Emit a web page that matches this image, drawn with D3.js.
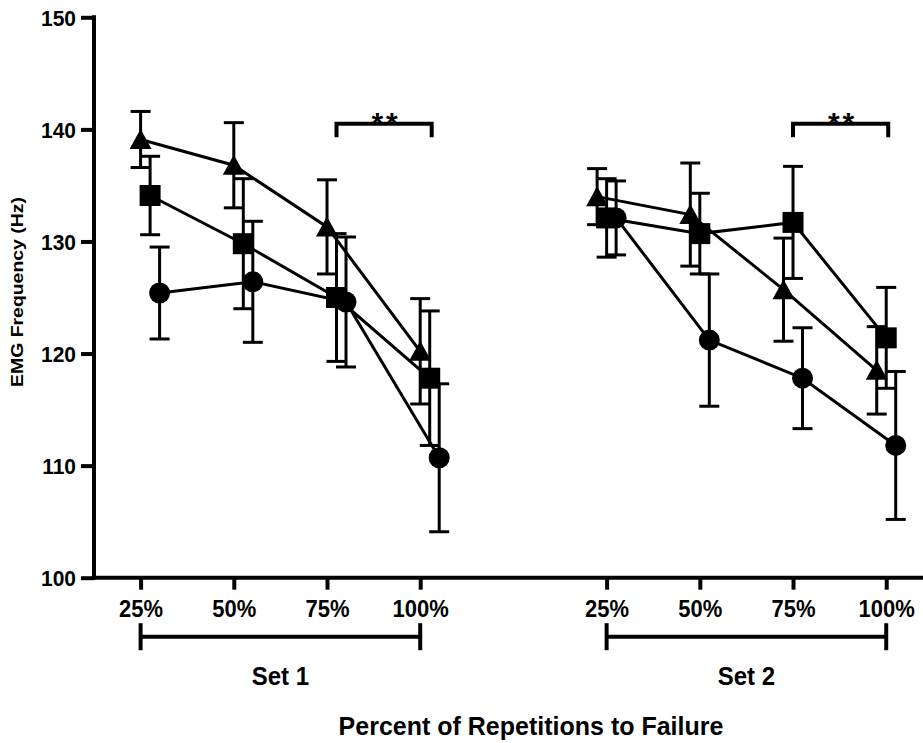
<!DOCTYPE html>
<html>
<head>
<meta charset="utf-8">
<script src="https://cdn.jsdelivr.net/npm/d3@7"></script>
<style>
  body { margin: 0; background: #fff; }
  text { font-family: "Liberation Sans", Arial, sans-serif; fill: #000; }
</style>
</head>
<body>
<div id="runApp"></div>
<script>
const timepoints = ["25%", "50%", "75%", "100%"];
const sets = ["Set 1", "Set 2"];
const yTicks = [100, 110, 120, 130, 140, 150];

// means and SD, Set 1 then Set 2 (four timepoints each)
const triangleMean = [139.1, 136.8, 131.3, 120.2, 134.0, 132.4, 125.7, 118.5];
const triangleSD = [2.5, 3.8, 4.2, 4.7, 2.5, 4.6, 4.6, 3.9];
const squareMean = [134.1, 129.8, 125.0, 117.8, 132.1, 130.7, 131.7, 121.4];
const squareSD = [3.5, 5.8, 5.7, 6.0, 3.5, 3.6, 5.0, 4.5];
const circleMean = [125.4, 126.4, 124.6, 110.7, 132.1, 121.2, 117.8, 111.8];
const circleSD = [4.1, 5.4, 5.8, 6.6, 3.3, 5.9, 4.5, 6.6];

// significance brackets: set index, from / to timepoint index
const sigSet = [0, 1];
const sigFrom = [2, 2];
const sigTo = [3, 3];
const sigLabel = ["**", "**"];
const sigLevel = 140.5;

let svg;
const width = 923;
const height = 743;

const x = d3.scaleLinear().domain([0.5, 9.4]).range([94, 923.5]);
const y = d3.scaleLinear().domain([100, 150]).range([577.7, 17.3]);

const dodge = { triangle: -9.5, square: 0, circle: 9.5 };
const setShift = [9.5, 0];

const series = [
  { name: "triangle", mean: triangleMean, sd: triangleSD },
  { name: "square", mean: squareMean, sd: squareSD },
  { name: "circle", mean: circleMean, sd: circleSD },
];

function slot(i) {
  const s = Math.floor(i / timepoints.length);
  const t = i % timepoints.length;
  return { set: s, pos: s * (timepoints.length + 1) + t + 1 };
}

function px(name, i) {
  const { set, pos } = slot(i);
  return x(pos) + dodge[name] + setShift[set];
}

function symbolPath(name) {
  if (name === "triangle") return "M0,-10.5L11,9.5L-11,9.5Z";
  if (name === "square") return "M-10.5,-10.5H10.5V10.5H-10.5Z";
  return d3.arc()({ innerRadius: 0, outerRadius: 10.5, startAngle: 0, endAngle: 2 * Math.PI });
}

function prepareVis() {
  svg = d3
    .select("#runApp")
    .append("svg")
    .attr("width", width)
    .attr("height", height)
    .style("background", "#fff");
}

function drawAxes() {
  const yAxis = svg
    .append("g")
    .attr("transform", `translate(${x.range()[0]},0)`)
    .call(d3.axisLeft(y).tickValues(yTicks).tickSize(13).tickSizeOuter(0).tickPadding(5));
  yAxis.select(".domain").remove();
  yAxis.selectAll(".tick line").attr("stroke", "#000").attr("stroke-width", 4);
  yAxis
    .selectAll(".tick text")
    .attr("x", null)
    .attr("dy", null)
    .attr("transform", "translate(-18,8) scale(1,1.08)")
    .attr("font-size", 21)
    .attr("font-weight", "bold")
    .attr("font-family", "Liberation Sans, Arial, sans-serif");

  const xTickVals = d3.range(8).map((i) => slot(i).pos);
  const xAxis = svg
    .append("g")
    .attr("transform", `translate(0,${y(100)})`)
    .call(
      d3.axisBottom(x)
        .tickValues(xTickVals)
        .tickFormat((d, i) => timepoints[i % timepoints.length])
        .tickSize(12)
        .tickSizeOuter(0)
    );
  xAxis.select(".domain").remove();
  xAxis.selectAll(".tick line").attr("stroke", "#000").attr("stroke-width", 4);
  xAxis
    .selectAll(".tick text")
    .attr("y", null)
    .attr("dy", null)
    .attr("transform", "translate(0,39) scale(1,1.12)")
    .attr("font-size", 22)
    .attr("font-weight", "bold")
    .attr("font-family", "Liberation Sans, Arial, sans-serif");

  // axis lines
  svg
    .append("line")
    .attr("x1", x.range()[0]).attr("x2", x.range()[0])
    .attr("y1", y(150)).attr("y2", y(100))
    .attr("stroke", "#000").attr("stroke-width", 4).attr("stroke-linecap", "square");
  svg
    .append("line")
    .attr("x1", x.range()[0]).attr("x2", width + 2)
    .attr("y1", y(100)).attr("y2", y(100))
    .attr("stroke", "#000").attr("stroke-width", 4).attr("stroke-linecap", "square");

  // set brackets under the ticks
  const by = 636.7;
  sets.forEach((label, s) => {
    const x1 = x(slot(s * 4).pos);
    const x2 = x(slot(s * 4 + 3).pos);
    const g = svg.append("g");
    g.append("line").attr("x1", x1).attr("x2", x2).attr("y1", by).attr("y2", by)
      .attr("stroke", "#000").attr("stroke-width", 4);
    [x1, x2].forEach((xx) => {
      g.append("line").attr("x1", xx).attr("x2", xx).attr("y1", by - 13.5).attr("y2", by + 13.5)
        .attr("stroke", "#000").attr("stroke-width", 4);
    });
    g.append("text")
      .attr("transform", `translate(${(x1 + x2) / 2},685) scale(1,1.06)`)
      .attr("text-anchor", "middle")
      .attr("font-size", 24)
      .attr("font-weight", "bold")
      .text(label);
  });

  // axis titles
  svg
    .append("text")
    .attr("x", 531)
    .attr("y", 735)
    .attr("text-anchor", "middle")
    .attr("font-size", 25)
    .attr("font-weight", "bold")
    .text("Percent of Repetitions to Failure");

  svg
    .append("text")
    .attr("transform", "translate(23,292) rotate(-90)")
    .attr("text-anchor", "middle")
    .attr("font-size", 16)
    .attr("font-weight", "bold")
    .attr("textLength", 190)
    .attr("lengthAdjust", "spacingAndGlyphs")
    .text("EMG Frequency (Hz)");
}

function drawData() {
  const idx = d3.range(8);

  // error bars
  series.forEach((sr) => {
    const g = svg.append("g").attr("class", "err-" + sr.name);
    idx.forEach((i) => {
      const cx = px(sr.name, i);
      const top = y(sr.mean[i] + sr.sd[i]);
      const bot = y(sr.mean[i] - sr.sd[i]);
      g.append("line").attr("x1", cx).attr("x2", cx).attr("y1", top).attr("y2", bot)
        .attr("stroke", "#000").attr("stroke-width", 3);
      [top, bot].forEach((yy) => {
        g.append("line").attr("x1", cx - 10).attr("x2", cx + 10).attr("y1", yy).attr("y2", yy)
          .attr("stroke", "#000").attr("stroke-width", 3);
      });
    });
  });

  // connecting lines, one per set
  const line = d3.line().x((d) => d[0]).y((d) => d[1]);
  series.forEach((sr) => {
    sets.forEach((s, si) => {
      const pts = d3.range(4).map((t) => {
        const i = si * 4 + t;
        return [px(sr.name, i), y(sr.mean[i])];
      });
      svg.append("path").attr("d", line(pts)).attr("fill", "none")
        .attr("stroke", "#000").attr("stroke-width", 3);
    });
  });

  // markers
  series.forEach((sr) => {
    svg
      .append("g")
      .selectAll("path")
      .data(idx)
      .join("path")
      .attr("transform", (i) => `translate(${px(sr.name, i)},${y(sr.mean[i])})`)
      .attr("d", symbolPath(sr.name))
      .attr("fill", "#000");
  });

  // significance brackets
  sigSet.forEach((s, k) => {
    const x1 = x(slot(s * 4 + sigFrom[k]).pos) + setShift[s];
    const x2 = x(slot(s * 4 + sigTo[k]).pos) + setShift[s] + 2;
    const yt = y(sigLevel);
    svg
      .append("path")
      .attr("d", `M${x1},${yt + 13.5}V${yt}H${x2}V${yt + 13.5}`)
      .attr("fill", "none")
      .attr("stroke", "#000")
      .attr("stroke-width", 4);
    svg
      .append("text")
      .attr("x", (x1 + x2) / 2 + 2)
      .attr("y", yt + 9.5)
      .attr("text-anchor", "middle")
      .attr("font-size", 30)
      .attr("font-weight", "bold")
      .attr("letter-spacing", 3)
      .text(sigLabel[k]);
  });
}

function runApp() {
  prepareVis();
  drawAxes();
  drawData();
}

runApp();
</script>
</body>
</html>
